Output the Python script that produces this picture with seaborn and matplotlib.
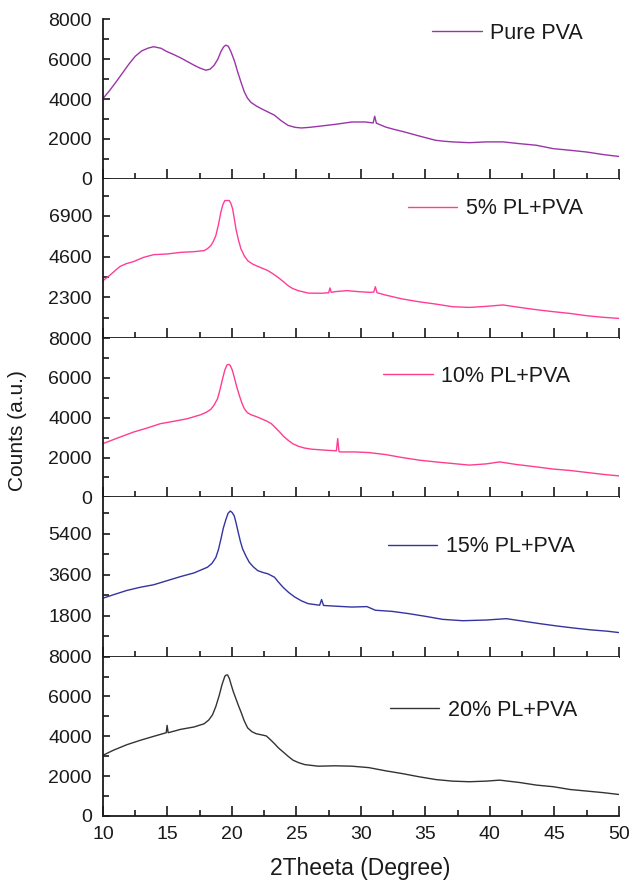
import matplotlib
matplotlib.use("Agg")
import matplotlib.pyplot as plt
import seaborn as sns
import pandas as pd
from matplotlib.ticker import MultipleLocator, FixedLocator

# ---------------- data ----------------
labels = ["Pure PVA", "5% PL+PVA", "10% PL+PVA", "15% PL+PVA", "20% PL+PVA"]

x_pure = [10, 10.5, 11, 11.5, 12, 12.5, 13, 13.5, 13.93, 14.5, 14.97, 15.5, 16.02, 16.5, 17.06,
          17.5, 17.97, 18.3, 18.62, 18.9, 19.14, 19.35, 19.53, 19.72, 19.92, 20.2, 20.44, 20.7,
          20.96, 21.2, 21.48, 21.9, 22.27, 22.8, 23.3, 23.8, 24.35, 24.9, 25.39, 26.0, 26.69,
          27.99, 29.3, 30.34, 30.95, 31.07, 31.2, 31.9, 32.5, 33.2, 34.5, 35.2, 35.8, 36.5, 37.1,
          38.41, 39.71, 41.02, 42.32, 43.62, 44.92, 46.22, 47.53, 48.83, 50]
y_pure = [4030, 4420, 4850, 5300, 5750, 6150, 6420, 6560, 6630, 6550, 6380, 6230, 6070, 5900, 5700,
          5560, 5450, 5500, 5700, 6000, 6380, 6620, 6710, 6650, 6380, 5900, 5370, 4850,
          4360, 4050, 3830, 3650, 3520, 3350, 3190, 2920, 2680, 2580, 2550, 2580, 2630,
          2730, 2850, 2850, 2800, 3140, 2790, 2600, 2490, 2380, 2150, 2030, 1930, 1880, 1850,
          1810, 1850, 1850, 1760, 1680, 1510, 1430, 1340, 1210, 1120]

x_5 = [10, 10.55, 11, 11.33, 11.8, 12.37, 13.15, 13.93, 14.97, 16.02, 17.06, 17.84, 18.1, 18.36,
       18.55, 18.75, 18.95, 19.14, 19.3, 19.45, 19.79, 19.92, 20.05, 20.18, 20.31, 20.5, 20.7,
       20.95, 21.22, 21.6, 22.0, 22.79, 23.2, 23.57, 24.0, 24.35, 24.7, 25.13, 25.91, 26.95,
       27.5, 27.6, 27.7, 27.99, 28.9, 29.82, 30.73, 31.0, 31.12, 31.25, 31.9, 33.2, 34.5, 35.8,
       37.1, 38.41, 39.71, 41.02, 42.32, 43.62, 44.92, 46.22, 47.53, 48.83, 50]
y_5 = [3240, 3560, 3850, 4050, 4200, 4320, 4560, 4710, 4750, 4840, 4880, 4940, 5050, 5220,
       5450, 5790, 6400, 7110, 7550, 7770, 7770, 7600, 7300, 6750, 6160, 5550, 5030,
       4650, 4370, 4180, 4050, 3810, 3620, 3430, 3180, 2960, 2800, 2680, 2540, 2530,
       2560, 2830, 2580, 2620, 2680, 2620, 2580, 2600, 2900, 2560, 2430, 2210, 2050, 1920,
       1770, 1730, 1790, 1870, 1730, 1600, 1490, 1390, 1260, 1170, 1110]

x_10 = [10, 11.33, 12.37, 13.41, 14.45, 15.49, 16.54, 17.58, 18.0, 18.36, 18.6, 18.88, 19.07,
        19.27, 19.45, 19.61, 19.75, 19.87, 20.02, 20.18, 20.37, 20.57, 20.76, 20.96, 21.2, 21.48,
        21.9, 22.27, 22.7, 23.05, 23.4, 23.7, 24.0, 24.35, 24.7, 25.13, 25.6, 26.17, 27.21, 27.99,
        28.1, 28.2, 28.3, 28.39, 29.56, 30.6, 31.9, 33.2, 34.5, 35.8, 37.1, 38.41, 39.71, 40.76,
        42.06, 43.62, 44.92, 46.22, 47.53, 48.83, 50]
y_10 = [2700, 3030, 3280, 3480, 3700, 3820, 3950, 4150, 4270, 4420, 4620, 4950, 5400,
        5950, 6400, 6650, 6680, 6620, 6400, 6030, 5550, 5120, 4750, 4450, 4250, 4150,
        4050, 3950, 3830, 3700, 3480, 3280, 3060, 2870, 2700, 2570, 2480, 2420, 2370, 2340,
        2340, 2950, 2300, 2280, 2280, 2250, 2150, 2000, 1870, 1780, 1700, 1620, 1680, 1780,
        1650, 1530, 1420, 1350, 1250, 1150, 1080]

x_15 = [10, 10.8, 11.85, 12.89, 13.93, 14.97, 16.02, 17.06, 18.1, 18.45, 18.75, 18.95, 19.14,
        19.33, 19.53, 19.7, 19.87, 20.02, 20.18, 20.33, 20.49, 20.66, 20.83, 21.1, 21.35, 21.65,
        22.0, 22.4, 22.79, 23.3, 23.6, 23.96, 24.4, 24.87, 25.4, 25.91, 26.8, 26.95, 27.1,
        27.99, 29.3, 30.47, 31.12, 32.42, 33.72, 35.03, 36.33, 37.9, 39.71, 41.28, 42.58, 43.88,
        45.18, 46.48, 47.79, 49.09, 50]
y_15 = [2570, 2720, 2910, 3050, 3160, 3340, 3520, 3680, 3930, 4100, 4360, 4700, 5160,
        5650, 6030, 6300, 6400, 6330, 6180, 5850, 5450, 5050, 4730, 4400, 4140, 3950,
        3780, 3700, 3640, 3490, 3280, 3050, 2820, 2620, 2450, 2330, 2260, 2510, 2250,
        2220, 2180, 2200, 2040, 1990, 1890, 1770, 1640, 1580, 1610, 1670, 1560, 1450,
        1350, 1260, 1180, 1120, 1060]

x_20 = [10, 10.8, 11.85, 12.89, 13.93, 14.9, 14.97, 15.05, 16.02, 17.06, 17.84, 18.2, 18.49,
        18.75, 19.01, 19.23, 19.45, 19.56, 19.66, 19.8, 19.92, 20.1, 20.31, 20.5, 20.7, 20.95,
        21.22, 21.55, 21.88, 22.25, 22.66, 23.0, 23.3, 23.6, 23.96, 24.35, 24.74, 25.2, 25.65,
        26.69, 27.99, 29.3, 30.6, 31.9, 33.2, 34.5, 35.8, 37.1, 38.41, 39.71, 40.76, 42.32,
        43.62, 44.92, 46.22, 47.53, 48.83, 50]
y_20 = [3050, 3300, 3580, 3800, 4000, 4180, 4550, 4180, 4350, 4470, 4630, 4820, 5080,
        5500, 6050, 6600, 7020, 7080, 7080, 6900, 6630, 6250, 5880, 5550, 5220, 4780,
        4420, 4230, 4130, 4080, 4020, 3820, 3630, 3420, 3220, 3000, 2800, 2670, 2580,
        2500, 2520, 2500, 2430, 2270, 2130, 1970, 1830, 1750, 1720, 1750, 1800, 1680,
        1550, 1470, 1330, 1250, 1170, 1080]

xs = [x_pure, x_5, x_10, x_15, x_20]
ys = [y_pure, y_5, y_10, y_15, y_20]

y_major = [[0, 2000, 4000, 6000, 8000], [2300, 4600, 6900], [0, 2000, 4000, 6000, 8000],
           [1800, 3600, 5400], [0, 2000, 4000, 6000, 8000]]
y_minor = [[1000, 3000, 5000, 7000], [1150, 3450, 5750, 8050], [1000, 3000, 5000, 7000],
           [900, 2700, 4500, 6300], [1000, 3000, 5000, 7000]]
y_top = [8000, 9000, 8000, 7000, 8000]

# ---------------- style ----------------
colors = ["#9A35A8", "#FF3D98", "#FF3D8E", "#3434A0", "#333333"]
legend_anchor = [(0.638, 0.912), (0.591, 0.812), (0.543, 0.761), (0.552, 0.689), (0.556, 0.665)]
ink = "#1a1a1a"

sns.set_style("ticks")
plt.rcParams['font.family'] = ['Liberation Sans', 'DejaVu Sans']

fig = plt.figure(figsize=(6.34, 8.83), dpi=100)
gs = fig.add_gridspec(5, 1, left=0.1625, right=0.976, bottom=0.0759, top=0.978, hspace=0)

for i in range(5):
    ax = fig.add_subplot(gs[i])
    df = pd.DataFrame({"x": xs[i], "y": ys[i]})
    sns.lineplot(data=df, x="x", y="y", ax=ax, color=colors[i], linewidth=1.0,
                 sort=False, estimator=None, label=labels[i])
    ax.set_xlim(10, 50)
    ax.set_ylim(0, y_top[i])
    ax.set_xlabel("")
    ax.set_ylabel("")
    ax.xaxis.set_major_locator(MultipleLocator(5))
    ax.xaxis.set_minor_locator(MultipleLocator(2.5))
    ax.yaxis.set_major_locator(FixedLocator(y_major[i]))
    ax.yaxis.set_minor_locator(FixedLocator(y_minor[i]))
    ax.set_yticklabels([str(v) for v in y_major[i]])
    for s in ["top", "right"]:
        ax.spines[s].set_visible(False)
    for s in ["left", "bottom"]:
        ax.spines[s].set_linewidth(1.3)
        ax.spines[s].set_color(ink)
    ax.tick_params(axis="x", which="major", direction="in", length=7, width=1.2,
                   color=ink, labelsize=14, pad=7, labelcolor=ink)
    ax.tick_params(axis="x", which="minor", direction="in", length=4, width=1.2, color=ink)
    ax.tick_params(axis="y", which="major", direction="in", length=5, width=1.2,
                   color=ink, labelsize=14, pad=8, labelcolor=ink)
    ax.tick_params(axis="y", which="minor", direction="in", length=4, width=1.2, color=ink)
    if i < 4:
        ax.tick_params(axis="x", labelbottom=False)
    ax.set_facecolor("white")
    leg = ax.legend(loc="center left", bbox_to_anchor=legend_anchor[i], frameon=False,
                    handlelength=2.3, handletextpad=0.4, borderpad=0, borderaxespad=0,
                    fontsize=15.5)
    for t in leg.get_texts():
        t.set_color(ink)

fig.text(18 / 634, 1 - 431 / 883, "Counts (a.u.)", rotation=90, ha="center", va="center",
         fontsize=15, color=ink)
fig.text(360 / 634, 1 - 868 / 883, "2Theeta (Degree)", ha="center", va="center",
         fontsize=16.5, color=ink)

fig.savefig("out.png", dpi=100, facecolor="white")
